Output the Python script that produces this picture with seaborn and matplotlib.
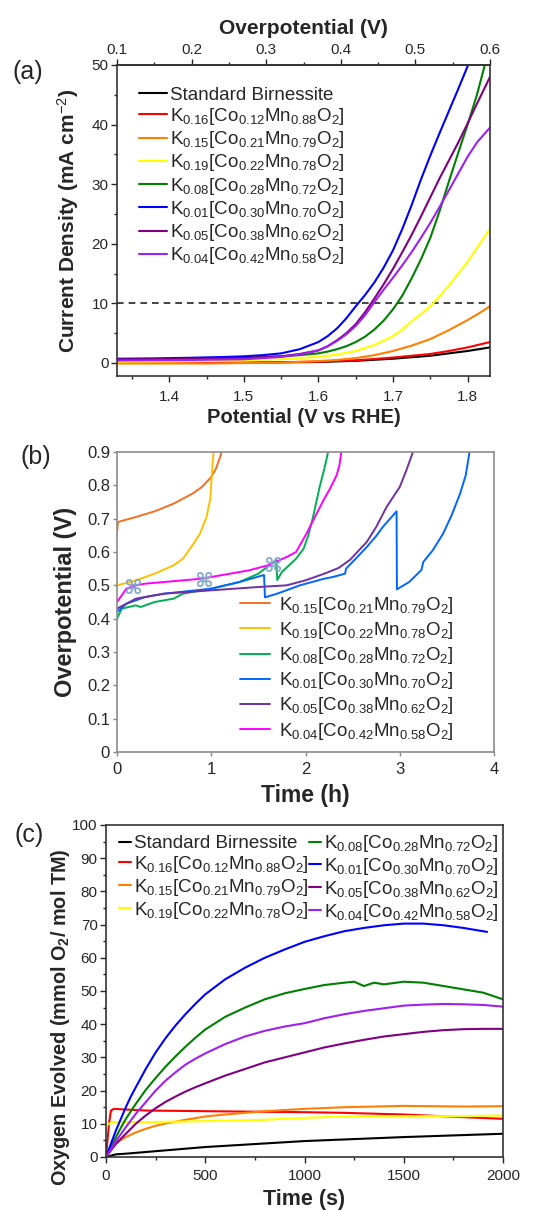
import numpy as np
import pandas as pd
import matplotlib
matplotlib.use("Agg")
import matplotlib.pyplot as plt
import seaborn as sns
from matplotlib.ticker import MultipleLocator, FixedLocator

sns.set_theme(style="white")
plt.rcParams['font.family'] = ['Liberation Sans', 'DejaVu Sans']
plt.rcParams['mathtext.fontset'] = 'custom'
plt.rcParams['mathtext.rm'] = 'Liberation Sans'
plt.rcParams['mathtext.it'] = 'Liberation Sans:italic'
plt.rcParams['mathtext.bf'] = 'Liberation Sans:bold'

# ---------------- labels ----------------
lab_std = "Standard Birnessite"
lab_016 = r"K$_{0.16}$[Co$_{0.12}$Mn$_{0.88}$O$_2$]"
lab_015 = r"K$_{0.15}$[Co$_{0.21}$Mn$_{0.79}$O$_2$]"
lab_019 = r"K$_{0.19}$[Co$_{0.22}$Mn$_{0.78}$O$_2$]"
lab_008 = r"K$_{0.08}$[Co$_{0.28}$Mn$_{0.72}$O$_2$]"
lab_001 = r"K$_{0.01}$[Co$_{0.30}$Mn$_{0.70}$O$_2$]"
lab_005 = r"K$_{0.05}$[Co$_{0.38}$Mn$_{0.62}$O$_2$]"
lab_004 = r"K$_{0.04}$[Co$_{0.42}$Mn$_{0.58}$O$_2$]"

# ---------------- panel (a): LSV ----------------
a_std_x = [1.33, 1.5, 1.6, 1.65, 1.7, 1.725, 1.75, 1.775, 1.8, 1.83]
a_std_y = [0.0, 0.05, 0.15, 0.35, 0.7, 0.95, 1.2, 1.6, 2.0, 2.6]
a_016_x = [1.33, 1.5, 1.6, 1.65, 1.675, 1.7, 1.725, 1.75, 1.775, 1.8, 1.83]
a_016_y = [0.0, 0.05, 0.2, 0.45, 0.65, 0.9, 1.2, 1.5, 2.0, 2.6, 3.5]
a_015_x = [1.33, 1.45, 1.55, 1.6, 1.625, 1.65, 1.675, 1.7, 1.725, 1.75, 1.775, 1.8, 1.815, 1.83]
a_015_y = [-0.1, -0.1, 0.05, 0.3, 0.5, 0.8, 1.3, 2.0, 2.9, 4.0, 5.5, 7.2, 8.3, 9.5]
a_019_x = [1.33, 1.4, 1.5, 1.55, 1.6, 1.625, 1.65, 1.675, 1.7, 1.7125, 1.725, 1.7375, 1.75,
           1.7625, 1.775, 1.7875, 1.8, 1.8125, 1.83]
a_019_y = [0.2, 0.25, 0.4, 0.6, 1.0, 1.4, 2.0, 3.0, 4.5, 5.6, 7.0, 8.2, 9.5,
           11.2, 13.0, 15.0, 17.0, 19.3, 22.5]
a_008_x = [1.33, 1.4, 1.5, 1.55, 1.575, 1.6, 1.6125, 1.625, 1.6375, 1.65, 1.6625, 1.675, 1.6875,
           1.7, 1.7125, 1.725, 1.7375, 1.75, 1.7625, 1.775, 1.7875, 1.8, 1.8125, 1.822, 1.825]
a_008_y = [0.5, 0.6, 0.9, 1.1, 1.3, 1.6, 1.9, 2.3, 2.8, 3.5, 4.4, 5.6, 7.1,
           9.0, 11.3, 14.2, 17.4, 21.0, 25.5, 30.5, 35.3, 40.0, 45.0, 49.5, 51.0]
a_001_x = [1.33, 1.375, 1.425, 1.475, 1.5, 1.525, 1.55, 1.575, 1.6, 1.6125, 1.625, 1.6375, 1.65,
           1.6625, 1.675, 1.6875, 1.7, 1.7125, 1.725, 1.7375, 1.75, 1.7625, 1.775, 1.7875, 1.8, 1.806]
a_001_y = [0.7, 0.75, 0.85, 1.0, 1.1, 1.3, 1.6, 2.3, 3.5, 4.5, 5.8, 7.5, 9.5,
           11.4, 13.5, 16.0, 18.9, 22.5, 26.5, 30.8, 34.8, 38.6, 42.3, 46.0, 49.8, 51.0]
a_005_x = [1.33, 1.4, 1.5, 1.55, 1.575, 1.6, 1.6125, 1.625, 1.6375, 1.65, 1.6625, 1.675, 1.6875,
           1.7, 1.7125, 1.725, 1.7375, 1.75, 1.7625, 1.775, 1.7875, 1.8, 1.8125, 1.83]
a_005_y = [0.6, 0.65, 0.8, 1.1, 1.5, 2.1, 2.8, 3.8, 5.0, 6.5, 8.5, 10.8, 13.2,
           15.8, 18.6, 21.5, 24.6, 27.8, 31.0, 34.0, 37.0, 40.2, 43.5, 48.0]
a_004_x = [1.33, 1.4, 1.5, 1.55, 1.575, 1.6, 1.6125, 1.625, 1.6375, 1.65, 1.6625, 1.675, 1.6875,
           1.7, 1.7125, 1.725, 1.7375, 1.75, 1.7625, 1.775, 1.7875, 1.8, 1.8125, 1.83]
a_004_y = [0.4, 0.45, 0.6, 1.0, 1.4, 2.1, 2.8, 3.7, 4.8, 6.2, 8.0, 10.2, 12.3,
           14.3, 16.4, 18.6, 21.0, 23.5, 26.2, 29.0, 31.8, 34.6, 37.0, 39.5]
a_ref_current = 10

# ---------------- panel (b): chronopotentiometry ----------------
b_015_t = [0.0, 0.01, 0.2, 0.4, 0.6, 0.8, 0.9, 1.0, 1.05, 1.1, 1.12]
b_015_v = [0.66, 0.69, 0.705, 0.722, 0.745, 0.775, 0.795, 0.825, 0.85, 0.89, 0.92]
b_019_t = [0.0, 0.2, 0.4, 0.6, 0.7, 0.8, 0.88, 0.95, 0.99, 1.01, 1.03]
b_019_v = [0.50, 0.515, 0.535, 0.56, 0.58, 0.62, 0.655, 0.705, 0.76, 0.85, 0.92]
b_008_t = [0.0, 0.05, 0.2, 0.25, 0.4, 0.6, 0.7, 1.0, 1.3, 1.5, 1.69, 1.70, 1.75, 1.9, 1.98,
           2.03, 2.08, 2.15, 2.2, 2.24, 2.27]
b_008_v = [0.40, 0.43, 0.44, 0.435, 0.45, 0.46, 0.475, 0.49, 0.51, 0.535, 0.576, 0.516, 0.54, 0.58, 0.61,
           0.65, 0.705, 0.795, 0.85, 0.9, 0.93]
b_001_t = [0.0, 0.1, 0.3, 0.5, 1.0, 1.3, 1.56, 1.57, 1.7, 1.94, 2.2, 2.29, 2.42, 2.43, 2.55, 2.65,
           2.75, 2.82, 2.966, 2.97, 3.1, 3.23, 3.25, 3.35, 3.46, 3.55, 3.64, 3.7, 3.74, 3.77]
b_001_v = [0.42, 0.445, 0.465, 0.475, 0.49, 0.51, 0.531, 0.464, 0.475, 0.50, 0.52, 0.525, 0.535, 0.55,
           0.585, 0.615, 0.648, 0.675, 0.722, 0.488, 0.51, 0.546, 0.57, 0.605, 0.655, 0.71, 0.775, 0.83,
           0.9, 0.93]
b_005_t = [0.0, 0.2, 0.5, 1.0, 1.5, 1.8, 2.0, 2.2, 2.35, 2.47, 2.55, 2.65, 2.75, 2.86, 2.93, 3.0,
           3.07, 3.14, 3.17]
b_005_v = [0.43, 0.46, 0.475, 0.485, 0.495, 0.50, 0.515, 0.535, 0.552, 0.576, 0.60, 0.63, 0.675,
           0.735, 0.765, 0.795, 0.845, 0.9, 0.93]
b_004_t = [0.0, 0.1, 0.2, 0.3, 0.5, 0.7, 0.9, 1.2, 1.4, 1.6, 1.8, 1.9, 1.95, 2.01, 2.1, 2.19,
           2.26, 2.33, 2.36, 2.38, 2.40]
b_004_v = [0.45, 0.49, 0.50, 0.505, 0.51, 0.515, 0.52, 0.535, 0.545, 0.56, 0.585, 0.60, 0.625, 0.655,
           0.705, 0.755, 0.79, 0.83, 0.86, 0.9, 0.93]
b_mark_t = [0.17, 0.92, 1.66]
b_mark_v = [0.497, 0.52, 0.565]

# ---------------- panel (c): oxygen evolution ----------------
c_std_t = [0, 50, 100, 500, 1000, 1500, 2000]
c_std_y = [0.0, 0.8, 1.0, 3.0, 4.8, 6.0, 7.0]
c_016_t = [0, 15, 25, 40, 100, 200, 500, 1000, 1200, 1500, 1800, 2000]
c_016_y = [0.0, 10.0, 14.0, 14.5, 14.3, 14.0, 13.8, 13.5, 13.3, 12.8, 12.0, 11.5]
c_015_t = [0, 25, 50, 75, 100, 150, 200, 250, 300, 400, 500, 600, 700, 800, 1000, 1200, 1500, 1800, 2000]
c_015_y = [0.0, 2.5, 4.0, 5.1, 6.0, 7.4, 8.5, 9.4, 10.1, 11.2, 12.2, 12.8, 13.3, 13.8, 14.5, 15.0, 15.4,
           15.2, 15.3]
c_019_t = [0, 30, 200, 500, 800, 1000, 1200, 1500, 1800, 2000]
c_019_y = [9.5, 10.5, 10.5, 10.8, 11.2, 11.8, 12.2, 12.3, 12.3, 12.5]
c_008_t = [0, 25, 50, 75, 100, 150, 200, 250, 300, 350, 400, 450, 500, 600, 700, 800, 900, 1000, 1100,
           1200, 1250, 1300, 1350, 1400, 1500, 1600, 1700, 1800, 1900, 2000]
c_008_y = [0.0, 3.0, 6.0, 8.8, 11.5, 16.0, 20.2, 23.8, 27.2, 30.3, 33.2, 35.9, 38.4, 42.2, 45.0, 47.5,
           49.3, 50.6, 51.8, 52.5, 52.8, 51.5, 52.5, 52.0, 52.8, 52.5, 51.5, 50.5, 49.5, 47.5]
c_001_t = [0, 25, 50, 75, 100, 125, 150, 200, 250, 300, 350, 400, 450, 500, 600, 700, 800, 900, 1000,
           1100, 1200, 1300, 1400, 1500, 1600, 1700, 1800, 1900, 1920]
c_001_y = [0.0, 4.0, 8.0, 11.5, 15.0, 18.2, 21.0, 26.5, 31.5, 35.8, 39.6, 43.0, 46.1, 49.0, 53.5, 57.0,
           60.0, 62.5, 64.8, 66.5, 68.0, 69.0, 69.8, 70.3, 70.3, 69.8, 69.0, 68.0, 67.8]
c_005_t = [0, 50, 100, 150, 200, 250, 300, 350, 400, 450, 500, 600, 700, 800, 900, 1000, 1100, 1200,
           1300, 1400, 1500, 1600, 1700, 1800, 1900, 2000]
c_005_y = [0.0, 4.0, 7.0, 10.0, 12.5, 14.7, 16.6, 18.2, 19.7, 21.0, 22.2, 24.5, 26.5, 28.5, 30.0, 31.5,
           33.0, 34.2, 35.3, 36.3, 37.0, 37.7, 38.2, 38.5, 38.6, 38.6]
c_004_t = [0, 50, 100, 150, 200, 250, 300, 350, 400, 450, 500, 600, 700, 800, 900, 1000, 1100, 1200,
           1300, 1400, 1500, 1600, 1700, 1800, 1900, 2000]
c_004_y = [0.0, 4.8, 9.0, 13.0, 16.5, 20.0, 23.0, 25.5, 27.8, 29.6, 31.2, 34.0, 36.3, 38.0, 39.3, 40.3,
           41.8, 43.0, 44.0, 44.8, 45.6, 45.9, 46.1, 46.0, 45.8, 45.3]

# colours
col_ac = {"std": "#000000", "016": "#FF0000", "015": "#FF8000", "019": "#FFFF00",
          "008": "#008000", "001": "#0000FF", "005": "#800080", "004": "#A020F0"}
col_b = {"015": "#F36F21", "019": "#FFC000", "008": "#00B050", "001": "#0066FF",
         "005": "#7030A0", "004": "#FF00FF"}

fig = plt.figure(figsize=(5.43, 12.11), dpi=100)
W, H = 543, 1211
def box(l, t, r, b):
    return [l / W, 1 - b / H, (r - l) / W, (b - t) / H]

ax_a = fig.add_axes(box(117, 65, 490, 376))
ax_b = fig.add_axes(box(117, 452, 494, 752))
ax_c = fig.add_axes(box(106, 825, 503, 1157))

def lineplot(ax, x, y, color, label, lw=1.5):
    df = pd.DataFrame({"x": x, "y": y})
    sns.lineplot(data=df, x="x", y="y", ax=ax, color=color, label=label, lw=lw,
                 estimator=None, sort=False)

# ---- (a)
series_a = [("std", a_std_x, a_std_y, lab_std), ("016", a_016_x, a_016_y, lab_016),
            ("015", a_015_x, a_015_y, lab_015), ("019", a_019_x, a_019_y, lab_019),
            ("008", a_008_x, a_008_y, lab_008), ("001", a_001_x, a_001_y, lab_001),
            ("005", a_005_x, a_005_y, lab_005), ("004", a_004_x, a_004_y, lab_004)]
for k, x, y, lab in series_a:
    lineplot(ax_a, x, y, col_ac[k], lab)
ax_a.axhline(a_ref_current, color="#222222", ls=(0, (4, 3)), lw=1.2, zorder=0)
ax_a.set_xlim(1.33, 1.83)
ax_a.set_ylim(-2.2, 50)
ax_a.xaxis.set_major_locator(MultipleLocator(0.1))
ax_a.xaxis.set_minor_locator(MultipleLocator(0.05))
ax_a.yaxis.set_major_locator(MultipleLocator(10))
ax_a.yaxis.set_minor_locator(MultipleLocator(5))
ax_a.set_xlabel("Potential (V vs RHE)", fontsize=14.5, fontweight="bold", labelpad=3)
ax_a.set_ylabel(r"Current Density (mA cm$^{-2}$)", fontsize=15, fontweight="bold", labelpad=8)
top = ax_a.secondary_xaxis("top", functions=(lambda v: v - 1.23, lambda v: v + 1.23))
top.xaxis.set_major_locator(FixedLocator([0.1, 0.2, 0.3, 0.4, 0.5, 0.6]))
top.xaxis.set_minor_locator(FixedLocator([0.15, 0.25, 0.35, 0.45, 0.55]))
top.set_xticklabels(["0.1", "0.2", "0.3", "0.4", "0.5", "0.6"])
top.set_xlabel("Overpotential (V)", fontsize=15, fontweight="bold", labelpad=6)
top.tick_params(axis="x", which="major", direction="out", length=4, width=1, labelsize=11, pad=2)
top.tick_params(axis="x", which="minor", direction="out", length=2.5, width=1)
top.spines["top"].set_color("#333333")
ax_a.tick_params(axis="both", which="major", direction="out", length=4, width=1, labelsize=11,
                 bottom=True, left=True)
ax_a.tick_params(axis="x", which="major", pad=6)
ax_a.tick_params(axis="y", which="major", pad=2)
ax_a.tick_params(axis="both", which="minor", direction="out", length=2.5, width=1, bottom=True, left=True)
for s in ax_a.spines.values():
    s.set_color("#333333")
    s.set_linewidth(1.2)
leg = ax_a.legend(loc="upper left", bbox_to_anchor=(0.04, 0.955), frameon=False, fontsize=13.5,
                  handlelength=1.45, handletextpad=0.2, labelspacing=0.12, borderaxespad=0)

# ---- (b)
series_b = [("015", b_015_t, b_015_v, lab_015), ("019", b_019_t, b_019_v, lab_019),
            ("008", b_008_t, b_008_v, lab_008), ("001", b_001_t, b_001_v, lab_001),
            ("005", b_005_t, b_005_v, lab_005), ("004", b_004_t, b_004_v, lab_004)]
for k, x, y, lab in series_b:
    lineplot(ax_b, x, y, col_b[k], lab, lw=1.4)
ax_b.scatter(b_mark_t, b_mark_v, marker="$\u2318$", s=110, color="#7FA7C9", zorder=5, linewidths=0.4)
ax_b.set_xlim(0, 4)
ax_b.set_ylim(0, 0.9)
ax_b.xaxis.set_major_locator(MultipleLocator(1))
ax_b.set_yticks(np.arange(0, 0.91, 0.1))
ax_b.set_yticklabels(["0", "0.1", "0.2", "0.3", "0.4", "0.5", "0.6", "0.7", "0.8", "0.9"])
ax_b.set_xlabel("Time (h)", fontsize=16.5, fontweight="bold", labelpad=5)
ax_b.set_ylabel("Overpotential (V)", fontsize=17, fontweight="bold", labelpad=7)
ax_b.tick_params(axis="both", which="major", direction="out", length=3, width=1, labelsize=12,
                 bottom=True, left=True, pad=2, color="#888888")
ax_b.tick_params(axis="x", which="major", pad=4)
for s in ax_b.spines.values():
    s.set_color("#8C8C8C")
    s.set_linewidth(1.2)
ax_b.legend(loc="lower right", bbox_to_anchor=(0.913, 0.01), frameon=False, fontsize=13.5,
            handlelength=1.6, handletextpad=0.45, labelspacing=0.22, borderaxespad=0)

# ---- (c)
series_c = [("std", c_std_t, c_std_y, lab_std), ("016", c_016_t, c_016_y, lab_016),
            ("015", c_015_t, c_015_y, lab_015), ("019", c_019_t, c_019_y, lab_019),
            ("008", c_008_t, c_008_y, lab_008), ("001", c_001_t, c_001_y, lab_001),
            ("005", c_005_t, c_005_y, lab_005), ("004", c_004_t, c_004_y, lab_004)]
for k, x, y, lab in series_c:
    lineplot(ax_c, x, y, col_ac[k], lab)
ax_c.set_xlim(0, 2000)
ax_c.set_ylim(0, 100)
ax_c.xaxis.set_major_locator(MultipleLocator(500))
ax_c.xaxis.set_minor_locator(MultipleLocator(250))
ax_c.yaxis.set_major_locator(MultipleLocator(10))
ax_c.yaxis.set_minor_locator(MultipleLocator(5))
ax_c.set_xlabel("Time (s)", fontsize=15.5, fontweight="bold", labelpad=4)
ax_c.set_ylabel(r"Oxygen Evolved (mmol O$_\mathbf{2}$/ mol TM)", fontsize=14.3, fontweight="bold")
ax_c.yaxis.set_label_coords(-0.085, 0.42)
ax_c.tick_params(axis="both", which="major", direction="out", length=4, width=1, labelsize=11,
                 bottom=True, left=True, pad=2)
ax_c.tick_params(axis="x", which="major", pad=5)
ax_c.tick_params(axis="both", which="minor", direction="out", length=2.5, width=1, bottom=True, left=True)
for s in ax_c.spines.values():
    s.set_color("#333333")
    s.set_linewidth(1.2)
ax_c.legend(loc="upper left", bbox_to_anchor=(0.015, 0.998), frameon=False, fontsize=13.5, ncol=2,
            handlelength=0.6, handletextpad=0.2, labelspacing=0.1, columnspacing=0.0, borderaxespad=0)

fig.text(12 / W, 1 - 72 / H, "(a)", fontsize=18, va="center", ha="left")
fig.text(20 / W, 1 - 457 / H, "(b)", fontsize=18, va="center", ha="left")
fig.text(15 / W, 1 - 835 / H, "(c)", fontsize=18, va="center", ha="left")

fig.savefig("out.png", dpi=100)
